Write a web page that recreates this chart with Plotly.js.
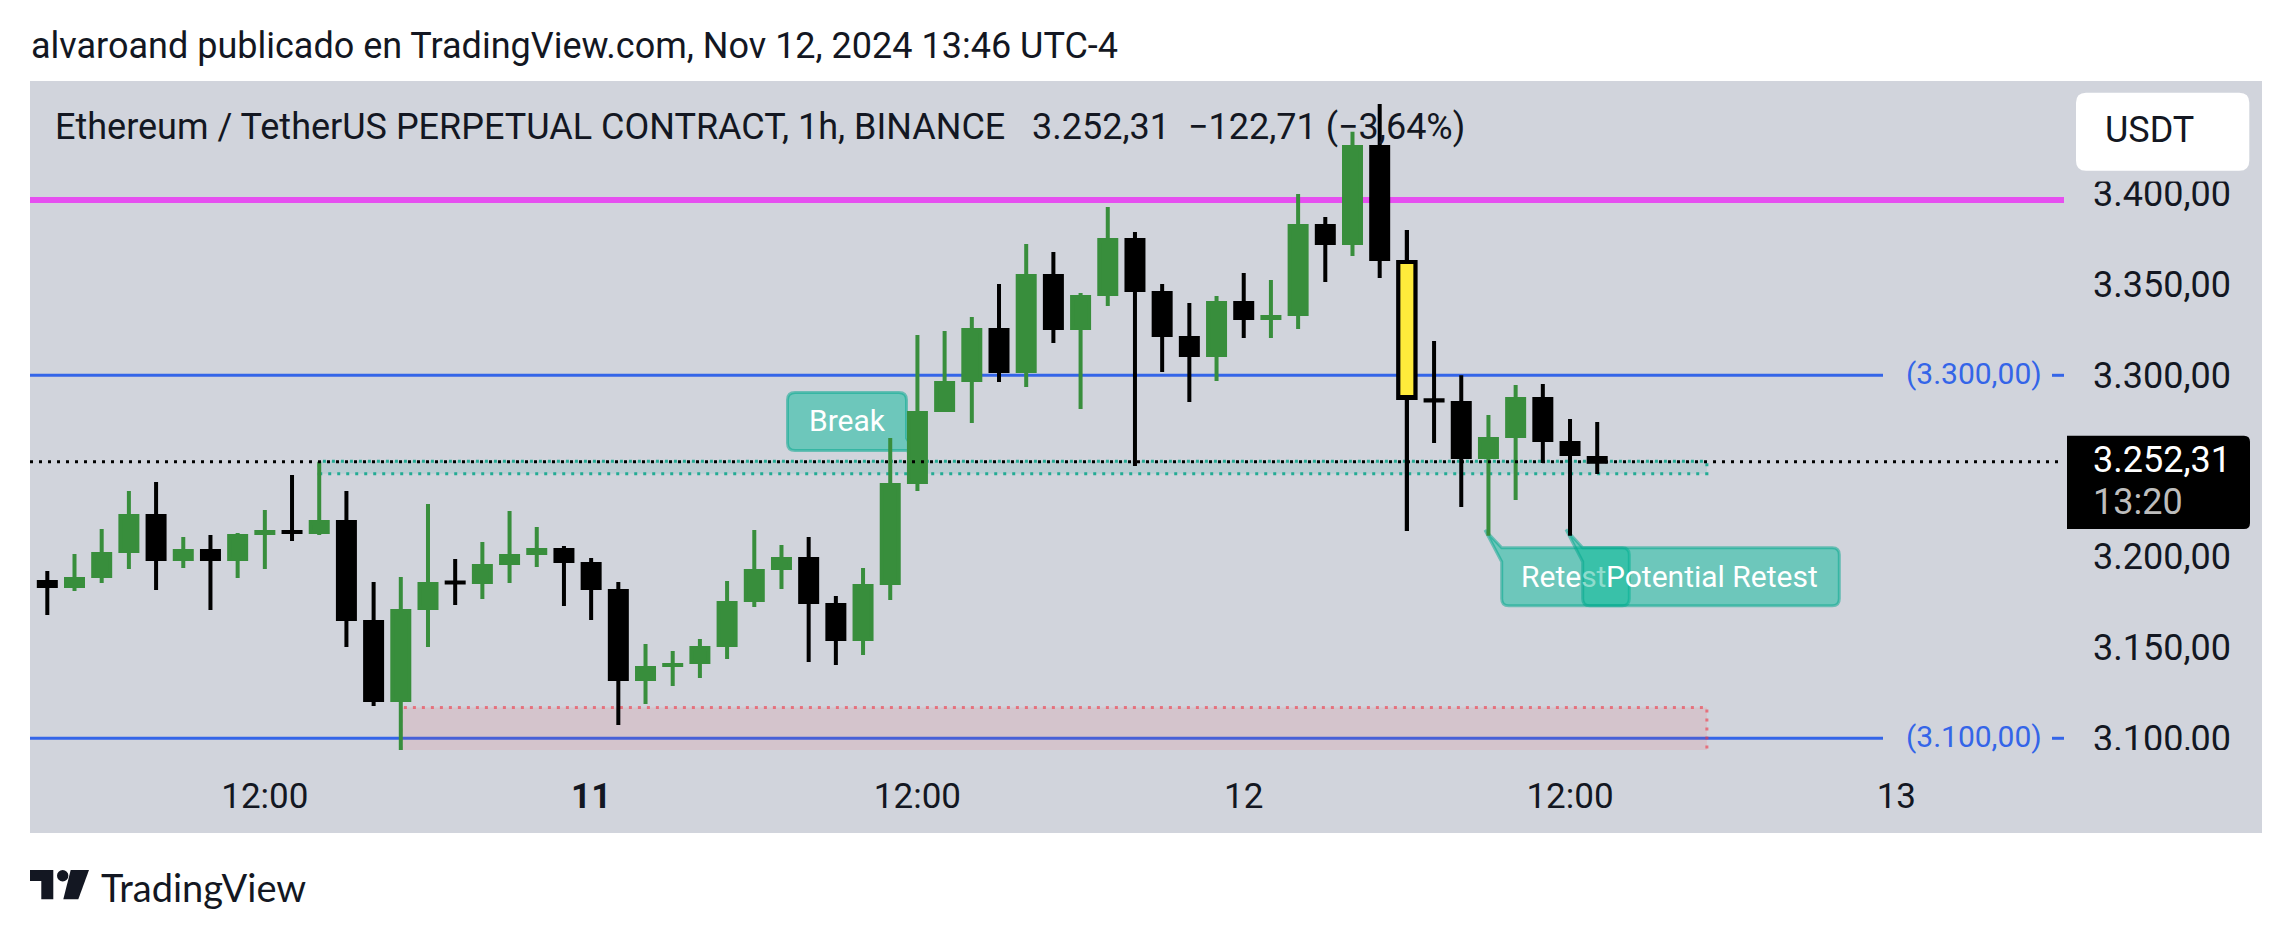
<!DOCTYPE html>
<html>
<head>
<meta charset="utf-8">
<script src="https://cdn.plot.ly/plotly-3.0.1.min.js"></script>
<style>html,body{margin:0;padding:0;background:#fff}#chart{width:2292px;height:939px}</style>
</head>
<body>
<div id="chart"></div>
<script>
// ---- data ----
var times = [
"2024-11-10 04:00","2024-11-10 05:00","2024-11-10 06:00","2024-11-10 07:00","2024-11-10 08:00","2024-11-10 09:00",
"2024-11-10 10:00","2024-11-10 11:00","2024-11-10 12:00","2024-11-10 13:00","2024-11-10 14:00","2024-11-10 15:00",
"2024-11-10 16:00","2024-11-10 17:00","2024-11-10 18:00","2024-11-10 19:00","2024-11-10 20:00","2024-11-10 21:00",
"2024-11-10 22:00","2024-11-10 23:00","2024-11-11 00:00","2024-11-11 01:00","2024-11-11 02:00","2024-11-11 03:00",
"2024-11-11 04:00","2024-11-11 05:00","2024-11-11 06:00","2024-11-11 07:00","2024-11-11 08:00","2024-11-11 09:00",
"2024-11-11 10:00","2024-11-11 11:00","2024-11-11 12:00","2024-11-11 13:00","2024-11-11 14:00","2024-11-11 15:00",
"2024-11-11 16:00","2024-11-11 17:00","2024-11-11 18:00","2024-11-11 19:00","2024-11-11 20:00","2024-11-11 21:00",
"2024-11-11 22:00","2024-11-11 23:00","2024-11-12 00:00","2024-11-12 01:00","2024-11-12 02:00","2024-11-12 03:00",
"2024-11-12 04:00","2024-11-12 05:00","2024-11-12 06:00","2024-11-12 07:00","2024-11-12 08:00","2024-11-12 09:00",
"2024-11-12 10:00","2024-11-12 11:00","2024-11-12 12:00","2024-11-12 13:00"];
var opens = [3186.12,3183.91,3189.42,3203.20,3222.48,3198.79,3203.20,3198.79,3213.11,3213.67,
3213.67,3219.18,3164.08,3121.11,3171.79,3185.90,3186.12,3196.59,3202.10,3203.75,
3196.04,3181.16,3132.68,3140.35,3142.04,3151.41,3176.20,3193.83,3198.79,3173.45,
3154.71,3185.57,3241.22,3280.89,3297.41,3324.96,3302.37,3354.71,3326.06,3344.80,
3374.55,3345.35,3320.55,3311.19,3339.84,3331.57,3333.78,3382.26,3372.89,3425.79,
3362.43,3286.20,3284.74,3254.99,3266.56,3286.94,3262.70,3254.50];
var highs = [3192.18,3201.54,3215.32,3236.25,3241.21,3210.91,3212.01,3213.11,3225.79,3245.07,
3252.42,3236.25,3186.12,3188.87,3229.09,3198.79,3208.16,3225.24,3216.42,3205.95,
3199.34,3186.12,3151.96,3148.10,3154.71,3186.67,3214.77,3206.50,3210.91,3178.41,
3193.83,3265.45,3322.21,3324.41,3332.12,3350.31,3372.34,3367.94,3345.35,3392.73,
3378.95,3350.31,3339.84,3343.69,3356.37,3352.51,3399.89,3387.22,3434.23,3449.48,
3380.06,3318.90,3299.99,3278.13,3294.66,3295.21,3275.93,3274.27];
var lows = [3167.94,3181.16,3185.57,3193.28,3181.71,3193.83,3170.69,3188.32,3193.28,3208.71,
3212.01,3150.31,3117.80,3093.56,3150.31,3173.45,3176.75,3185.57,3194.38,3172.90,
3165.18,3107.33,3118.90,3128.82,3133.23,3143.69,3172.34,3182.26,3142.04,3140.39,
3145.90,3176.20,3236.26,3279.78,3273.72,3296.31,3293.56,3317.80,3281.44,3338.18,
3250.03,3301.82,3285.29,3296.86,3320.55,3320.55,3325.51,3351.41,3365.73,3353.61,
3214.22,3262.70,3227.44,3211.65,3231.30,3251.68,3211.65,3245.62];
var closes = [3183.91,3187.77,3201.54,3222.48,3198.79,3203.20,3198.79,3211.46,3213.67,3213.60,
3219.18,3165.73,3121.11,3170.14,3185.02,3185.80,3194.93,3200.44,3203.75,3197.69,
3182.81,3132.68,3138.74,3140.45,3149.76,3174.55,3192.18,3198.79,3175.10,3154.71,
3183.91,3239.56,3279.23,3295.76,3324.96,3302.37,3354.71,3326.06,3343.14,3374.55,
3347.00,3322.21,3311.19,3339.84,3331.57,3332.12,3382.26,3372.89,3425.79,3364.08,
3287.50,3286.05,3254.99,3264.91,3286.94,3264.36,3256.64,3252.31];
var highlighted = 50;
var yTickVals = [3100,3150,3200,3250,3300,3350,3400];
var yTickText = ["3.100,00","3.150,00","3.200,00","","3.300,00","3.350,00","3.400,00"];
var xTickVals = ["2024-11-10 12:00","2024-11-11 00:00","2024-11-11 12:00","2024-11-12 00:00","2024-11-12 12:00","2024-11-13 00:00"];
var xTickText = ["12:00","<b>11</b>","12:00","12","12:00","13"];
var lastPrice = 3252.31, resistance = 3396.6, levelHigh = 3300, levelLow = 3100;
var retestZone = {from:"2024-11-10 14:00", to:"2024-11-12 17:02", top:3252.6, bottom:3245.8};
var demandZone = {from:"2024-11-10 17:00", to:"2024-11-12 17:02", top:3116.9, bottom:3085};

// ---- layout helpers (page pixels -> paper fractions) ----
var L=30,R=2064,T=81,B=750;
function px(x){return (x-L)/(R-L);}
function py(y){return (B-y)/(B-T);}
function pathPx(s){return s.replace(/(-?[\d.]+) (-?[\d.]+)/g,function(m,a,b){return px(+a)+','+py(+b);});}
function rr(x0,y0,x1,y1,r){return 'M '+(x0+r)+' '+y0+' L '+(x1-r)+' '+y0+' Q '+x1+' '+y0+' '+x1+' '+(y0+r)+' L '+x1+' '+(y1-r)+' Q '+x1+' '+y1+' '+(x1-r)+' '+y1+' L '+(x0+r)+' '+y1+' Q '+x0+' '+y1+' '+x0+' '+(y1-r)+' L '+x0+' '+(y0+r)+' Q '+x0+' '+y0+' '+(x0+r)+' '+y0+' Z';}
function shapePx(d,fill,layer,line){return {type:'path',xref:'paper',yref:'paper',path:pathPx(d),fillcolor:fill,layer:layer,line:line||{width:0}};}
function tagged(x0,y0,x1,y1,r,tx,ty){ // top-left tail
  return 'M '+x0+' '+(y0+14)+' L '+tx+' '+ty+' L '+x0+' '+y0+' L '+(x1-r)+' '+y0+' Q '+x1+' '+y0+' '+x1+' '+(y0+r)+' L '+x1+' '+(y1-r)+' Q '+x1+' '+y1+' '+(x1-r)+' '+y1+' L '+(x0+r)+' '+y1+' Q '+x0+' '+y1+' '+x0+' '+(y1-r)+' Z';
}
var GRAY='#d1d4dc', INK='#131722', BLUE='#3465e8', GREEN='#388e3c', MAG='#e64ff0';
var tagFill='rgba(0,185,151,0.48)', tagLine={color:'rgba(0,165,140,0.5)',width:3};

var shapes=[
  // pane background
  shapePx('M 30 81 L 2262 81 L 2262 833 L 30 833 Z',GRAY,'below'),
  // zones
  {type:'rect',xref:'x',yref:'y',x0:retestZone.from,x1:retestZone.to,y0:retestZone.bottom,y1:retestZone.top,
   fillcolor:'rgba(0,150,136,0.10)',layer:'below',line:{color:'#22ab94',width:3,dash:'3px,6px'}},
  {type:'rect',xref:'x',yref:'y',x0:demandZone.from,x1:demandZone.to,y0:demandZone.bottom,y1:demandZone.top,
   fillcolor:'rgba(242,54,69,0.10)',layer:'below',line:{color:'rgba(242,54,69,0.6)',width:3,dash:'3px,6px'}},
  // levels
  {type:'line',xref:'paper',yref:'y',x0:0,x1:1,y0:resistance,y1:resistance,layer:'below',line:{color:MAG,width:6}},
  {type:'line',xref:'paper',yref:'y',x0:0,x1:px(1883),y0:levelHigh,y1:levelHigh,layer:'below',line:{color:BLUE,width:3}},
  {type:'line',xref:'paper',yref:'y',x0:0,x1:px(1883),y0:levelLow,y1:levelLow,layer:'below',line:{color:BLUE,width:3}},
  {type:'line',xref:'paper',yref:'y',x0:px(2052),x1:px(2064),y0:levelHigh,y1:levelHigh,layer:'below',line:{color:BLUE,width:3}},
  {type:'line',xref:'paper',yref:'y',x0:px(2052),x1:px(2064),y0:levelLow,y1:levelLow,layer:'below',line:{color:BLUE,width:3}},
  // callouts
  shapePx('M 795 392.5 L 899 392.5 Q 906.5 392.5 906.5 400 L 906.5 438 L 917 455 L 906.5 450.5 L 795 450.5 Q 787.5 450.5 787.5 443 L 787.5 400 Q 787.5 392.5 795 392.5 Z',tagFill,'below',tagLine),
  shapePx(tagged(1501.7,547.7,1629.3,605.7,7,1485,530),tagFill,'below',tagLine),
  shapePx(tagged(1582.7,547.7,1839.3,605.7,7,1566,529.5),tagFill,'below',tagLine),
  // last-price line above the candles
  {type:'line',xref:'paper',yref:'y',x0:0,x1:px(2058),y0:lastPrice,y1:lastPrice,layer:'above',line:{color:'#000',width:3,dash:'3px,6px'}},
  // clipping of the scale labels
  shapePx('M 2070 81 L 2262 81 L 2262 181.5 L 2070 181.5 Z',GRAY,'above'),
  shapePx('M 2070 750 L 2262 750 L 2262 772 L 2070 772 Z',GRAY,'above'),
  // USDT chip and last-price box
  shapePx(rr(2076,92.7,2249.3,170.7,10),'#ffffff','above'),
  shapePx('M 2067 435.7 L 2244 435.7 Q 2250 435.7 2250 441.7 L 2250 523 Q 2250 529 2244 529 L 2067 529 Z','#000000','above'),
  // TradingView logo
  shapePx('M 30 870 L 53.3 870 L 53.3 899.3 L 41.3 899.3 L 41.3 881 L 30 881 Z',INK,'above'),
  shapePx('M 70.7 870 L 89 870 L 78.3 899.3 L 63.3 899.3 Z',INK,'above'),
  {type:'circle',xref:'paper',yref:'paper',x0:px(57),x1:px(68.4),y0:py(881.4),y1:py(870),fillcolor:INK,layer:'above',line:{width:0}}
];

function note(text,x,y,size,color,anchor,family){
  return {text:text,xref:'paper',yref:'paper',x:px(x),y:py(y),xanchor:anchor||'left',yanchor:'middle',showarrow:false,
          borderpad:0,font:{family:family||'Roboto',size:size,color:color}};
}
var annotations=[
  note('alvaroand publicado en TradingView.com, Nov 12, 2024 13:46 UTC-4',30,46,36,INK),
  note('Ethereum / TetherUS PERPETUAL CONTRACT, 1h, BINANCE \u00a0 3.252,31 \u00a0\u2212122,71 (\u22123,64%)',54,127,36,INK),
  note('USDT',2104,130,36,INK),
  note('3.252,31',2092,460,36,'#ffffff'),
  note('13:20',2092,501.7,36,'#bdbdbd'),
  note('(3.300,00)',1905,373,30,BLUE),
  note('(3.100,00)',1905,736.5,30,BLUE),
  note('Break',847.7,420.7,30,'#ffffff','center'),
  note('Rete<span style="color:#8edccd">st</span>',1520,576.7,30,'#ffffff'),
  note('Potential Retest',1605,576.7,30,'#ffffff'),
  note('TradingView',100,887,38,INK,'left','Lato')
];

var candle={
  type:'candlestick',x:times,open:opens,high:highs,low:lows,close:closes,
  increasing:{line:{color:GREEN,width:4},fillcolor:GREEN},
  decreasing:{line:{color:'#000000',width:4},fillcolor:'#000000'},
  whiskerwidth:0,showlegend:false,hoverinfo:'skip'
};
var marked={
  type:'candlestick',x:[times[highlighted]],open:[opens[highlighted]],high:[highs[highlighted]],low:[lows[highlighted]],close:[closes[highlighted]],
  increasing:{line:{color:'#000000',width:4},fillcolor:'#ffeb3b'},
  decreasing:{line:{color:'#000000',width:4},fillcolor:'#ffeb3b'},
  whiskerwidth:0,showlegend:false,hoverinfo:'skip'
};
var layout={
  width:2292,height:939,
  margin:{l:L,r:2292-R,t:T,b:939-B,pad:0},
  paper_bgcolor:'#ffffff',plot_bgcolor:'rgba(0,0,0,0)',
  font:{family:'Roboto',size:36,color:INK},
  showlegend:false,hovermode:false,dragmode:false,
  boxmode:'overlay',boxgap:0.375,boxgroupgap:0,
  xaxis:{type:'date',range:['2024-11-10 03:21:48','2024-11-13 06:10:00'],
    rangeslider:{visible:false},showgrid:false,zeroline:false,showline:false,
    tickmode:'array',tickvals:xTickVals,ticktext:xTickText,ticks:'',tickangle:0,
    ticklabelstandoff:22,tickfont:{family:'Roboto',size:35,color:INK}},
  yaxis:{side:'right',range:[3093.55,3462.15],showgrid:false,zeroline:false,showline:false,
    tickmode:'array',tickvals:yTickVals,ticktext:yTickText,ticks:'',
    ticklabelstandoff:28,tickfont:{family:'Roboto',size:36,color:INK}},
  shapes:shapes,annotations:annotations
};
Plotly.newPlot('chart',[candle,marked],layout,{displayModeBar:false,staticPlot:true});
</script>
</body>
</html>
